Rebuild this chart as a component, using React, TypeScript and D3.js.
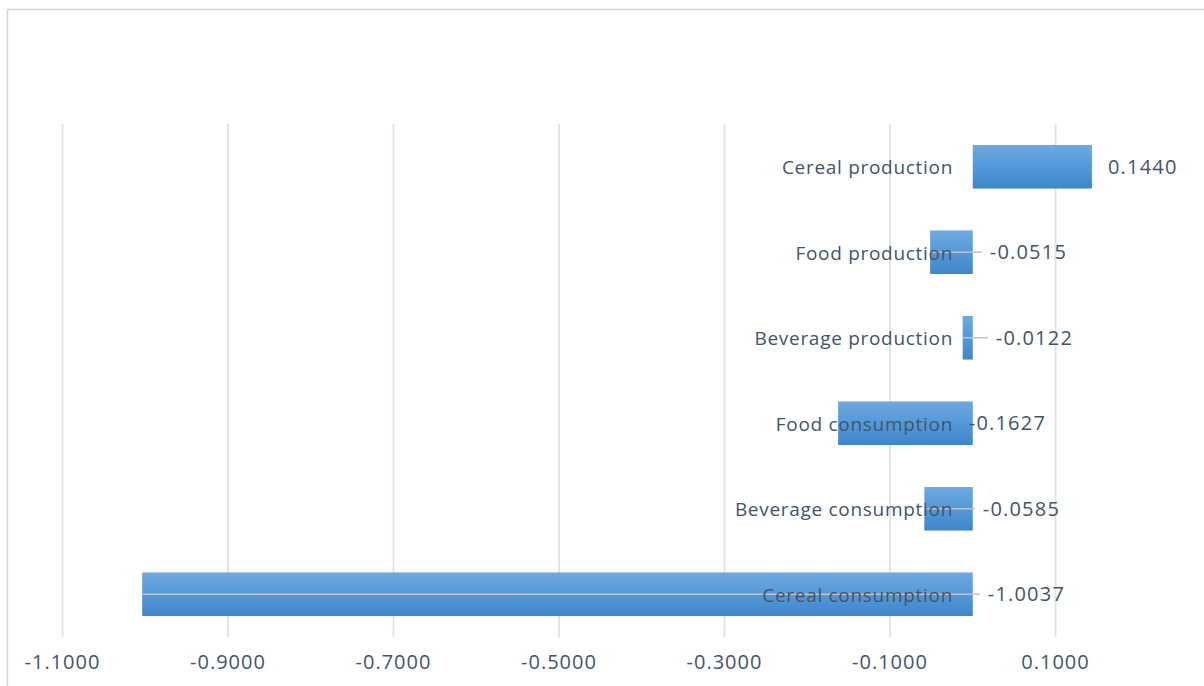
import React from "react";
import * as d3 from "d3";

// Change in each food-system indicator
const categories = [
  "Cereal production",
  "Food production",
  "Beverage production",
  "Food consumption",
  "Beverage consumption",
  "Cereal consumption",
];
const values = [0.144, -0.0515, -0.0122, -0.1627, -0.0585, -1.0037];
const valueLabels = ["0.1440", "-0.0515", "-0.0122", "-0.1627", "-0.0585", "-1.0037"];
const tickValues = [-1.1, -0.9, -0.7, -0.5, -0.3, -0.1, 0.1];
// horizontal nudge (px) of each value label from the bar's right end
const labelNudge = [16, 17, 23, -4, 10, 15];

const W = 1204;
const H = 686;
const TEXT = "#44546a";
const FONT = "'Open Sans', Lato, sans-serif";

const locale = d3.formatLocale({ decimal: ".", thousands: ",", grouping: [3], currency: ["", ""], minus: "-" });
const fmt = locale.format(".4f");

export default function App() {
  const x = d3.scaleLinear().domain([-1.1, 0.2]).range([62.5, 1138.25]);
  const y = d3
    .scaleBand<string>()
    .domain(categories)
    .range([124, 637])
    .paddingInner(0.49)
    .paddingOuter(0.245);

  return (
    <div style={{ position: "absolute", left: 0, top: 0 }}>
      <svg width={W} height={H} style={{ display: "block", background: "#fff" }}>
        <defs>
          <linearGradient id="barFill" x1="0" y1="0" x2="0" y2="1">
            <stop offset="0" stopColor="#70a8de" />
            <stop offset="0.5" stopColor="#5399da" />
            <stop offset="1" stopColor="#3f86c8" />
          </linearGradient>
        </defs>
        {/* chart frame */}
        <rect x={7.5} y={9.5} width={1400} height={1000} fill="none" stroke="#d4d4d4" strokeWidth={1.5} />

        {/* vertical gridlines */}
        {tickValues.map((t) => (
          <line key={t} x1={x(t)} x2={x(t)} y1={124} y2={637} stroke="#e1e5eb" strokeWidth={2} />
        ))}

        {/* bars */}
        {categories.map((c, i) => {
          const v = values[i];
          return (
            <rect
              key={c}
              x={x(Math.min(0, v))}
              width={Math.abs(x(v) - x(0))}
              y={y(c)}
              height={y.bandwidth()}
              fill="url(#barFill)"
            />
          );
        })}

        {/* leader lines to moved labels */}
        {categories.map((c, i) => {
          const v = values[i];
          const lx = x(Math.max(0, v)) + labelNudge[i];
          if (!(v < 0 && labelNudge[i] > 0)) return null;
          const cy = (y(c) as number) + y.bandwidth() / 2;
          return (
            <line key={c} x1={x(Math.min(0, v))} x2={lx - 8} y1={cy} y2={cy} stroke="#bcc3cc" strokeWidth={1.5} />
          );
        })}

        {/* category labels */}
        {categories.map((c) => (
          <text
            key={c}
            x={953}
            y={(y(c) as number) + y.bandwidth() / 2 + 1}
            dy="0.35em"
            textAnchor="end"
            fontFamily={FONT}
            fontSize={19}
            letterSpacing={0.7}
            fill={TEXT}
          >
            {c}
          </text>
        ))}

        {/* value labels */}
        {categories.map((c, i) => (
          <text
            key={c}
            x={x(Math.max(0, values[i])) + labelNudge[i]}
            y={(y(c) as number) + y.bandwidth() / 2}
            dy="0.35em"
            fontFamily={FONT}
            fontSize={20}
            letterSpacing={1.2}
            fill={TEXT}
          >
            {valueLabels[i]}
          </text>
        ))}

        {/* x axis tick labels */}
        {tickValues.map((t) => (
          <text
            key={t}
            x={x(t)}
            y={662}
            dy="0.35em"
            textAnchor="middle"
            fontFamily={FONT}
            fontSize={20}
            letterSpacing={1}
            fill={TEXT}
          >
            {fmt(t)}
          </text>
        ))}
      </svg>
    </div>
  );
}
